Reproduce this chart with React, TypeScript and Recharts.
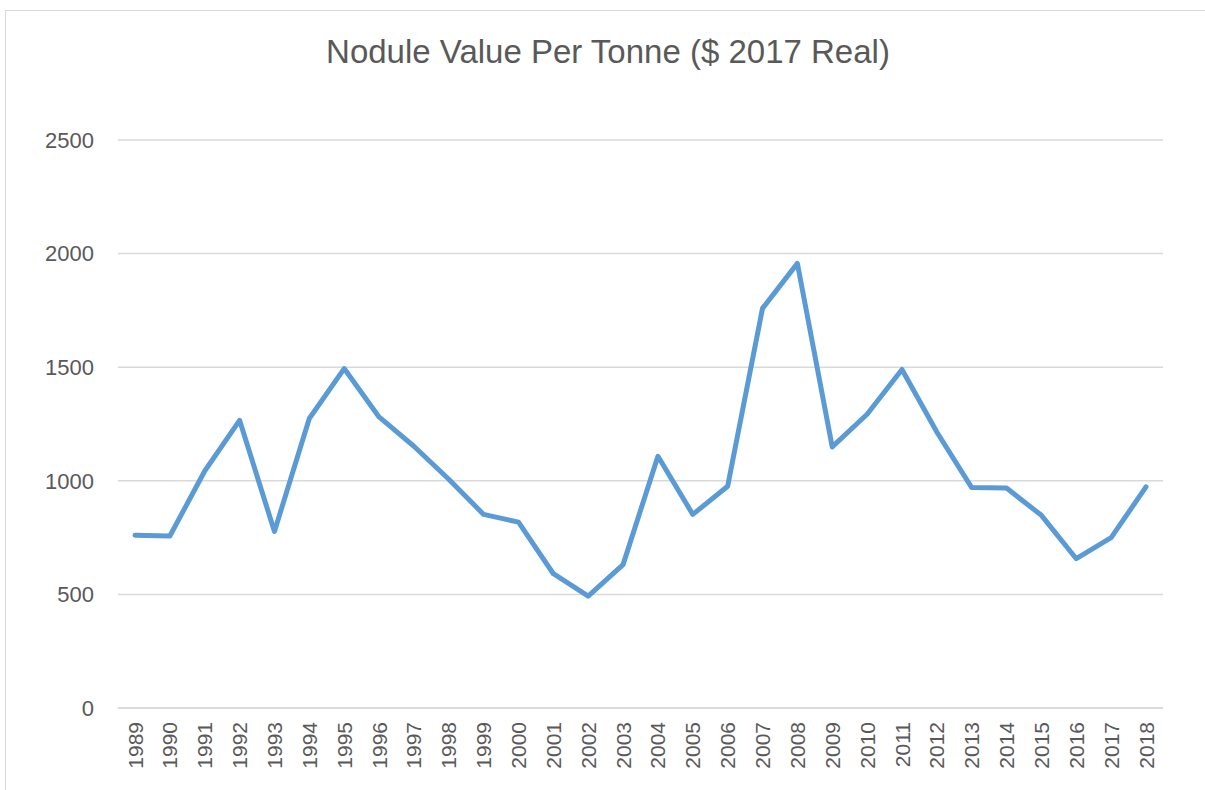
import React from "react";
import { LineChart, Line, XAxis, YAxis, CartesianGrid } from "recharts";

const years: string[] = [
  "1989","1990","1991","1992","1993","1994","1995","1996","1997","1998",
  "1999","2000","2001","2002","2003","2004","2005","2006","2007","2008",
  "2009","2010","2011","2012","2013","2014","2015","2016","2017","2018",
];
const values: number[] = [
  760, 757, 1043, 1266, 777, 1274, 1494, 1281, 1152, 1007,
  852, 818, 591, 492, 631, 1108, 852, 976, 1759, 1957,
  1149, 1293, 1490, 1215, 970, 968, 848, 657, 750, 973,
];
const yTicks: number[] = [0, 500, 1000, 1500, 2000, 2500];
const title = "Nodule Value Per Tonne ($ 2017 Real)";

const data = years.map((y, i) => ({ year: y, value: values[i] }));

const FONT = "'Liberation Sans', Arial, sans-serif";

const XTick = (props: any) => {
  const { x, y, payload } = props;
  return (
    <g transform={`translate(${x},${y})`}>
      <text
        transform="rotate(-90)"
        x={-14}
        y={0}
        dy="0.36em"
        textAnchor="end"
        fill="#595959"
        fontSize={21}
        fontFamily={FONT}
      >
        {payload.value}
      </text>
    </g>
  );
};

export default function App() {
  return (
    <div
      style={{
        position: "absolute",
        left: 0,
        top: 0,
        width: 1205,
        height: 790,
        overflow: "hidden",
        background: "#fff",
      }}
    >
      <div
        style={{
          position: "absolute",
          left: 5,
          top: 10,
          width: 1300,
          height: 900,
          border: "1px solid #D9D9D9",
        }}
      />
      <div
        style={{
          position: "absolute",
          left: 0,
          top: 33,
          width: 1216,
          textAlign: "center",
          fontFamily: FONT,
          fontSize: 33,
          color: "#595959",
          whiteSpace: "nowrap",
        }}
      >
        {title}
      </div>
      <div style={{ position: "absolute", left: 0, top: 0 }}>
        <LineChart
          width={1205}
          height={790}
          data={data}
          margin={{ top: 140, right: 42, bottom: 0, left: 0 }}
        >
          <CartesianGrid vertical={false} stroke="#D9D9D9" strokeWidth={1.5} />
          <XAxis
            dataKey="year"
            interval={0}
            padding={{ left: 17, right: 17 }}
            axisLine={{ stroke: "#D9D9D9", strokeWidth: 1.5 }}
            tickLine={false}
            tickSize={0}
            tickMargin={0}
            tick={<XTick />}
            height={82}
          />
          <YAxis
            domain={[0, 2500]}
            ticks={yTicks}
            width={118}
            axisLine={false}
            tickLine={false}
            tickSize={0}
            tickMargin={24}
            tick={{ fill: "#595959", fontSize: 22, fontFamily: FONT }}
          />
          <Line
            type="linear"
            dataKey="value"
            stroke="#5B9BD5"
            strokeWidth={5}
            dot={false}
            isAnimationActive={false}
            strokeLinejoin="round"
            strokeLinecap="round"
          />
        </LineChart>
      </div>
    </div>
  );
}
